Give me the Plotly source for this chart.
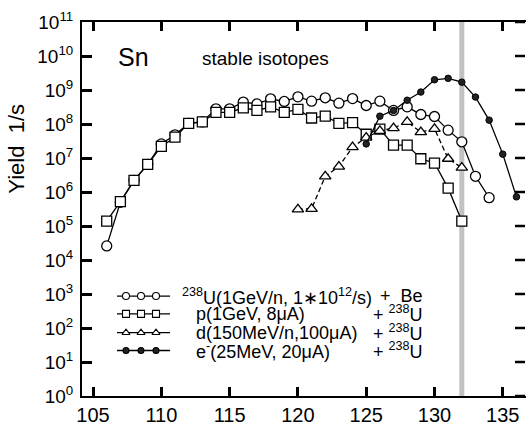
import plotly.graph_objects as go

# ---------------- data ----------------
x_u = list(range(106, 135))
y_u = [2.6e4, 5.0e5, 2.2e6, 6.5e6, 2.6e7, 4.8e7, 1.05e8, 1.15e8, 2.8e8, 2.8e8,
       4.4e8, 3.9e8, 5.5e8, 4.6e8, 6.3e8, 4.7e8, 5.9e8, 4.1e8, 5.6e8, 3.5e8,
       4.7e8, 2.5e8, 3.2e8, 1.9e8, 1.66e8, 6.6e7, 3.0e7, 2.9e6, 6.8e5]

x_p = list(range(106, 133))
y_p = [1.4e5, 5.2e5, 2.2e6, 6.5e6, 2.2e7, 4.1e7, 1.05e8, 1.15e8, 2.2e8, 2.2e8,
       3.0e8, 2.5e8, 3.2e8, 2.2e8, 2.7e8, 1.5e8, 1.7e8, 1.05e8, 1.1e8, 5.0e7,
       7.1e7, 2.4e7, 2.4e7, 9.5e6, 7.1e6, 1.3e6, 1.4e5]

x_d = list(range(120, 133))
y_d = [3.1e5, 3.2e5, 2.9e6, 5.6e6, 2.1e7, 4.0e7, 6.3e7, 7.6e7, 1.15e8, 5.8e7,
       7.2e7, 9.5e6, 5.2e6]

x_e = list(range(125, 137))
y_e = [2.6e7, 1.7e8, 2.5e8, 5.0e8, 8.7e8, 2.0e9, 2.2e9, 1.7e9, 6.2e8, 1.3e8,
       1.3e7, 7.2e5]

x_ticks = [105, 110, 115, 120, 125, 130, 135]
y_exps = list(range(0, 12))
y_tickvals = [10 ** e for e in y_exps]
y_ticktext = [f"10<sup>{e}</sup>" for e in y_exps]
stable_limit = 132

legend_left = ["<sup>238</sup>U(1GeV/n, 1\u221710<sup>12</sup>/s)",
               "p(1GeV, 8\u03bcA)",
               "d(150MeV/n,100\u03bcA)",
               "e<sup>-</sup>(25MeV, 20\u03bcA)"]
legend_right = ["+\u00a0\u00a0Be", "+ <sup>238</sup>U", "+ <sup>238</sup>U", "+ <sup>238</sup>U"]

# ---------------- styling ----------------
FONT = "Liberation Sans, Arial, sans-serif"
W, H = 526, 426
L, R, T, B = 82, 0, 22, 26
Y_MAX_EXP = 11
TICK_W = 2.5

fig = go.Figure()

common_line = dict(color="black", width=1.3)
fig.add_trace(go.Scatter(x=x_u, y=y_u, mode="lines+markers", line=common_line,
                         marker=dict(symbol="circle", size=10, color="white",
                                     line=dict(color="black", width=1.3)),
                         showlegend=False))
fig.add_trace(go.Scatter(x=x_p, y=y_p, mode="lines+markers", line=common_line,
                         marker=dict(symbol="square", size=10, color="white",
                                     line=dict(color="black", width=1.3)),
                         showlegend=False))
fig.add_trace(go.Scatter(x=x_d, y=y_d, mode="lines+markers",
                         line=dict(color="black", width=1.3, dash="5px,3px"),
                         marker=dict(symbol="triangle-up", size=10, color="white",
                                     line=dict(color="black", width=1.3)),
                         showlegend=False))
fig.add_trace(go.Scatter(x=x_e, y=y_e, mode="lines+markers", line=common_line,
                         marker=dict(symbol="circle", size=6.5, color="#222",
                                     line=dict(color="black", width=1)),
                         showlegend=False))

# legend glyphs in pixel coordinates (overlay axes x3/y3)
row_y = [299, 317, 336, 354]
glyph_x = [117, 126, 141, 156, 170]
legend_syms = [("circle", "white", 7), ("square", "white", 7),
               ("triangle-up", "white", 7), ("circle", "#222", 6)]
for i, (sym, col, sz) in enumerate(legend_syms):
    fig.add_trace(go.Scatter(x=[glyph_x[0], glyph_x[-1]], y=[row_y[i]] * 2,
                             mode="lines", xaxis="x3", yaxis="y3",
                             line=dict(color="black", width=1.3),
                             showlegend=False, hoverinfo="skip"))
    fig.add_trace(go.Scatter(x=glyph_x[1:4], y=[row_y[i]] * 3, mode="markers",
                             xaxis="x3", yaxis="y3",
                             marker=dict(symbol=sym, size=sz, color=col,
                                         line=dict(color="black", width=1.1)),
                             showlegend=False, hoverinfo="skip"))

annotations = []
left_x = [180, 194, 194, 194]
for i in range(4):
    annotations.append(dict(x=left_x[i], y=row_y[i], xref="x3", yref="y3",
                            text=legend_left[i], showarrow=False, xanchor="left",
                            yanchor="middle", font=dict(size=18, family=FONT, color="black")))
    annotations.append(dict(x=425, y=row_y[i], xref="x3", yref="y3",
                            text=legend_right[i], showarrow=False, xanchor="right",
                            yanchor="middle", font=dict(size=18, family=FONT, color="black")))
annotations.append(dict(x=116, y=57, xref="x3", yref="y3", text="Sn", showarrow=False,
                        xanchor="left", yanchor="middle",
                        font=dict(size=25, family=FONT, color="black")))
annotations.append(dict(x=200, y=59, xref="x3", yref="y3", text="stable isotopes",
                        showarrow=False, xanchor="left", yanchor="middle",
                        font=dict(size=19, family=FONT, color="black")))
annotations.append(dict(x=(17 - L) / (W - L - R), y=(H - B - 150) / (H - T - B),
                        xref="paper", yref="paper", text="Yield\u00a0\u00a01/s",
                        textangle=-90, showarrow=False, xanchor="center", yanchor="middle",
                        font=dict(size=22, family=FONT, color="black")))

shapes = [dict(type="line", x0=stable_limit, x1=stable_limit, y0=0, y1=1,
               xref="x", yref="paper", layer="below",
               line=dict(color="#c2c2c2", width=5))]
# inward ticks on the right frame (frame itself lies just outside the picture)
plot_w = W - L - R
for e in y_exps:
    shapes.append(dict(type="line", xref="paper", yref="paper",
                       x0=1 - 11 / plot_w, x1=1 - 1 / plot_w,
                       y0=e / Y_MAX_EXP, y1=e / Y_MAX_EXP,
                       line=dict(color="black", width=TICK_W)))

fig.update_layout(
    width=W, height=H,
    margin=dict(l=L, r=R, t=T, b=B),
    paper_bgcolor="white", plot_bgcolor="white",
    font=dict(family=FONT, color="black"),
    showlegend=False,
    annotations=annotations,
    shapes=shapes,
    xaxis=dict(range=[104.19, 136.70], tickvals=x_ticks, ticks="inside",
               ticklen=9, tickwidth=TICK_W, tickcolor="black", showline=True,
               linewidth=2, linecolor="black", mirror="ticks", showgrid=False,
               zeroline=False, tickfont=dict(size=20, family=FONT)),
    yaxis=dict(type="log", range=[0, Y_MAX_EXP], tickvals=y_tickvals, ticktext=y_ticktext,
               ticks="inside", ticklen=10, tickwidth=TICK_W, tickcolor="black",
               showline=True, linewidth=2, linecolor="black", mirror=False,
               showgrid=False, zeroline=False, tickfont=dict(size=19, family=FONT),
               ticklabelstandoff=3),
    xaxis3=dict(range=[L, W - R], overlaying="x", visible=False),
    yaxis3=dict(range=[H - B, T], overlaying="y", visible=False),
)

fig.write_html("out.html")
